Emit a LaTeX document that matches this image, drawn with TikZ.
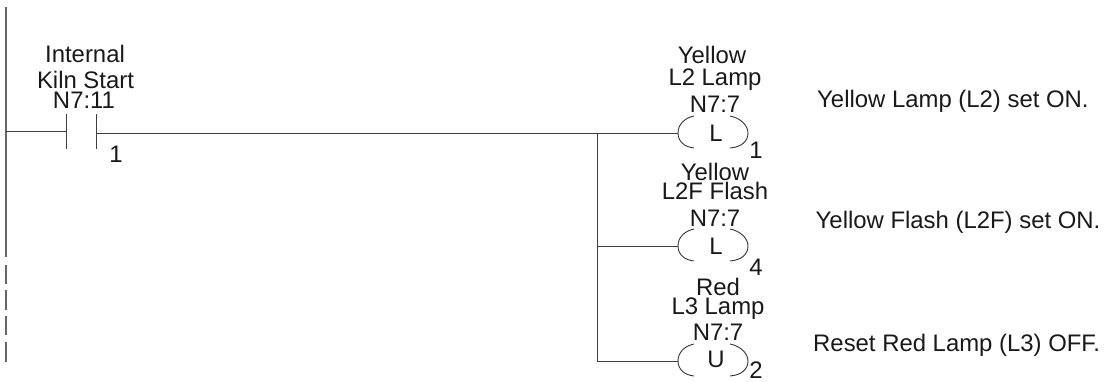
\documentclass[tikz,border=0pt]{standalone}
\usepackage{fontspec}
\setmainfont{Liberation Sans}
\begin{document}
\begin{tikzpicture}[x=1pt,y=-1pt,
  wire/.style={draw=black!75,line width=0.9pt},
  rail/.style={draw=black!60,line width=1.2pt},
  lbl/.style={inner sep=0pt,anchor=base,font=\fontsize{23.9}{24}\selectfont,text=black!90},
  note/.style={inner sep=0pt,anchor=base west,font=\fontsize{23.9}{24}\selectfont,text=black!90},
  coilarc/.style={draw=black!80,line width=0.9pt}]
\useasboundingbox (0,0) rectangle (1104,381);
% power rail
\coordinate (railtop) at (6,7);
\coordinate (railend) at (6,257);
\draw[rail] (railtop) -- (railend);
\foreach \a/\b in {265/284,290/310,316/335,342/362}{\draw[rail] (6,\a) -- (6,\b);}
% contact
\coordinate (c1t) at (66,114); \coordinate (c1b) at (66,149);
\coordinate (c2t) at (96,114); \coordinate (c2b) at (96,149);
\draw[wire] (c1t) -- (c1b);
\draw[wire] (c2t) -- (c2b);
\draw[wire] (6,131.5) -- (66,131.5);
% coils
\foreach \n/\y in {a/133,b/246,c/361}{
  \coordinate (\n L) at (678,\y);
  \coordinate (\n R) at (748,\y);
  \draw[coilarc] (694,\y-17) .. controls (684,\y-15) and (678,\y-8) .. (\n L)
     .. controls (678,\y+8) and (684,\y+14) .. (694,\y+15);
  \draw[coilarc] (730,\y-17) .. controls (740,\y-15) and (748,\y-8) .. (\n R)
     .. controls (748,\y+8) and (742,\y+14) .. (730,\y+15);
}
\coordinate (branch) at (597,133);
\coordinate (b2) at (597,246);
\coordinate (b3) at (597,361);
\draw[wire] (96,133) -- (aL);
\draw[wire] (branch) -- (b3);
\draw[wire] (b2) -- (bL);
\draw[wire] (b3) -- (cL);
% labels
\node[lbl] (t1) at (85,62) {Internal};
\node[lbl] (t2) at (85.5,88) {Kiln Start};
\node[lbl] (t3) at (84,108) {N7:11};
\node[lbl] (t4) at (116,162) {1};
\node[lbl] (u1) at (712,63) {Yellow};
\node[lbl] (u2) at (715,85) {L2 Lamp};
\node[lbl] (u3) at (715,112) {N7:7};
\node[lbl] (u4) at (716,141) {L};
\node[lbl] (u5) at (756,158) {1};
\node[lbl] (v1) at (715,180) {Yellow};
\node[lbl] (v2) at (715,199) {L2F Flash};
\node[lbl] (v3) at (715,226) {N7:7};
\node[lbl] (v4) at (716,254) {L};
\node[lbl] (v5) at (756,275) {4};
\node[lbl] (w1) at (718,295) {Red};
\node[lbl] (w2) at (718,314) {L3 Lamp};
\node[lbl] (w3) at (718,340) {N7:7};
\node[lbl] (w4) at (716,367) {U};
\node[lbl] (w5) at (756,378) {2};
\node[note] (n1) at (817,107) {Yellow Lamp (L2) set ON.};
\node[note] (n2) at (815.5,228) {Yellow Flash (L2F) set ON.};
\node[note] (n3) at (813,351) {Reset Red Lamp (L3) OFF.};
\end{tikzpicture}
\end{document}
